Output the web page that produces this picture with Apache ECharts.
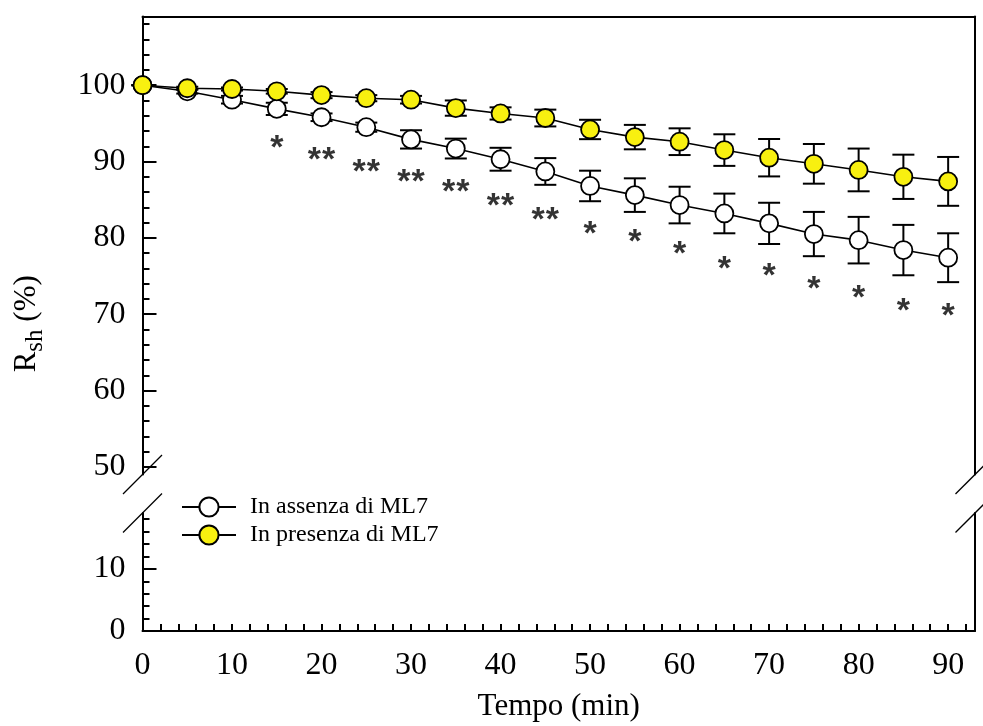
<!DOCTYPE html>
<html><head><meta charset="utf-8">
<script src="https://cdn.jsdelivr.net/npm/echarts@6/dist/echarts.min.js"></script>
<style>html,body{margin:0;padding:0;background:#fff}#c{width:983px;height:726px}</style>
</head><body><div id="c"></div>
<script>
// ---- data ----
const times = [0,5,10,15,20,25,30,35,40,45,50,55,60,65,70,75,80,85,90];
const absentMean = [100,99.2,98.1,96.9,95.8,94.5,92.9,91.7,90.3,88.7,86.8,85.6,84.3,83.2,81.9,80.5,79.7,78.4,77.4];
const absentErr  = [0,0.3,0.5,0.8,0.5,0.6,1.2,1.3,1.5,1.75,2.0,2.2,2.4,2.6,2.7,2.9,3.05,3.3,3.2];
const presentMean = [100,99.6,99.5,99.2,98.7,98.3,98.1,97.0,96.3,95.7,94.2,93.2,92.6,91.5,90.5,89.7,88.9,88.0,87.4];
const presentErr  = [0,0.2,0.2,0.3,0.4,0.4,0.5,1.0,0.8,1.1,1.27,1.6,1.75,2.07,2.45,2.6,2.8,2.9,3.2];
const starTimes  = [15,20,25,30,35,40,45,50,55,60,65,70,75,80,85,90];
const starY      = [92.6,91.0,89.4,88.1,86.8,85.0,83.2,81.4,80.3,78.7,76.8,75.9,74.1,73.0,71.2,70.6];
const starLabels = ['*','**','**','**','**','**','**','*','*','*','*','*','*','*','*','*'];
const seriesNames = ['In assenza di ML7','In presenza di ML7'];
const xTickLabels = [0,10,20,30,40,50,60,70,80,90];
const yUpperLabels = [50,60,70,80,90,100];
const yLowerLabels = [0,10];

// ---- layout / style ----
const FONT = '"Liberation Serif","Times New Roman",serif';
const W = 983, L = 142.5, R = 8, TOP = 16.5, UPH = 458, LOWTOP = 513, LOWH = 118;
const BLACK = '#000', YELLOW = '#f8f010';
const xMinor = []; for (let v = 2; v <= 92; v += 2) xMinor.push(v);
const yUpMinor = []; for (let v = 50; v <= 108; v += 2) yUpMinor.push(v);
const yLowMinor = []; for (let v = 2; v <= 18; v += 2) yLowMinor.push(v);

const chart = echarts.init(document.getElementById('c'), null, {renderer: 'canvas'});
const lineAx = {show: true, lineStyle: {color: BLACK, width: 2}};
const noTick = {show: false}, noLabel = {show: false}, noSplit = {show: false};
const labelStyle = {fontSize: 32, fontFamily: FONT, color: BLACK};

function yAxes(grid, min, max, major, minor) {
  return [
    {gridIndex: grid, type: 'value', min, max, position: 'left', axisLine: lineAx,
     axisTick: {show: true, inside: true, length: 14, lineStyle: {color: BLACK, width: 2}, customValues: major},
     axisLabel: Object.assign({show: true, customValues: major, margin: 17}, labelStyle), splitLine: noSplit},
    {gridIndex: grid, type: 'value', min, max, position: 'left', axisLine: {show: false},
     axisTick: {show: true, inside: true, length: 7, lineStyle: {color: BLACK, width: 2}, customValues: minor},
     axisLabel: noLabel, splitLine: noSplit},
    {gridIndex: grid, type: 'value', min, max, position: 'right', axisLine: lineAx,
     axisTick: noTick, axisLabel: noLabel, splitLine: noSplit}
  ];
}

function errData(mean, err) { return times.map((t, i) => [t, mean[i] - err[i], mean[i] + err[i]]); }
function errRender(params, api) {
  const x = api.value(0), lo = api.value(1), hi = api.value(2);
  const a = api.coord([x, hi]), b = api.coord([x, lo]);
  const hw = 11, st = {stroke: BLACK, lineWidth: 2};
  return {type: 'group', children: [
    {type: 'line', shape: {x1: a[0], y1: a[1], x2: b[0], y2: b[1]}, style: st},
    {type: 'line', shape: {x1: a[0] - hw, y1: a[1], x2: a[0] + hw, y2: a[1]}, style: st},
    {type: 'line', shape: {x1: b[0] - hw, y1: b[1], x2: b[0] + hw, y2: b[1]}, style: st}
  ]};
}

const yBreakA = TOP + UPH, yBreakB = LOWTOP, xRight = W - R, s = 19.5;
function slash(x, y) {
  return {type: 'line', shape: {x1: x - s, y1: y + s, x2: x + s, y2: y - s},
          style: {stroke: BLACK, lineWidth: 1.3}, z: 100};
}

chart.setOption({
  animation: false,
  backgroundColor: '#fff',
  grid: [
    {left: L, right: R, top: TOP, height: UPH},
    {left: L, right: R, top: LOWTOP, height: LOWH}
  ],
  xAxis: [
    {gridIndex: 0, type: 'value', min: 0, max: 93, position: 'top', axisLine: lineAx,
     axisTick: noTick, axisLabel: noLabel, splitLine: noSplit},
    {gridIndex: 1, type: 'value', min: 0, max: 93, position: 'bottom', axisLine: lineAx,
     axisTick: {show: true, inside: true, length: 7, lineStyle: {color: BLACK, width: 2}, customValues: xMinor},
     axisLabel: Object.assign({show: true, customValues: xTickLabels, margin: 19}, labelStyle),
     splitLine: noSplit,
     name: 'Tempo (min)', nameLocation: 'middle', nameGap: 60,
     nameTextStyle: {fontSize: 31, fontFamily: FONT, color: BLACK}}
  ],
  yAxis: [].concat(yAxes(0, 49, 109, yUpperLabels, yUpMinor), yAxes(1, 0, 19, yLowerLabels, yLowMinor)),
  legend: {
    orient: 'vertical', left: 181, top: 495, padding: 0, itemWidth: 54, itemHeight: 24, itemGap: 4,
    data: seriesNames,
    textStyle: {fontSize: 24, fontFamily: FONT, color: BLACK, padding: [0, 0, 0, 9]}
  },
  series: [
    {type: 'custom', xAxisIndex: 0, yAxisIndex: 0, renderItem: errRender, data: errData(absentMean, absentErr), z: 1, silent: true},
    {type: 'custom', xAxisIndex: 0, yAxisIndex: 0, renderItem: errRender, data: errData(presentMean, presentErr), z: 1, silent: true},
    {name: seriesNames[0], type: 'line', xAxisIndex: 0, yAxisIndex: 0, z: 2,
     data: times.map((t, i) => [t, absentMean[i]]),
     symbol: 'circle', symbolSize: 18, showSymbol: true,
     itemStyle: {color: '#fff', borderColor: BLACK, borderWidth: 1.8},
     lineStyle: {color: BLACK, width: 1.6}},
    {name: seriesNames[1], type: 'line', xAxisIndex: 0, yAxisIndex: 0, z: 3,
     data: times.map((t, i) => [t, presentMean[i]]),
     symbol: 'circle', symbolSize: 18, showSymbol: true,
     itemStyle: {color: YELLOW, borderColor: BLACK, borderWidth: 1.8},
     lineStyle: {color: BLACK, width: 1.6}},
    {type: 'scatter', xAxisIndex: 0, yAxisIndex: 0, z: 4, silent: true,
     data: starTimes.map((t, i) => [t, starY[i]]),
     symbolSize: 1, itemStyle: {color: 'transparent'},
     label: {show: true, position: 'inside',
             formatter: p => starLabels[p.dataIndex].split('').map(() => '{a|*}').join(''),
             rich: {a: {fontSize: 34, fontWeight: 'bold', fontFamily: '"Liberation Sans", Arial, sans-serif',
                        color: BLACK, padding: [0, 0.5, 0, 0.5]}},
             offset: [0, 7]}}
  ],
  graphic: [
    slash(L, yBreakA), slash(L, yBreakB), slash(xRight, yBreakA), slash(xRight, yBreakB),
    {type: 'text', x: 27, y: (TOP + LOWTOP + LOWH) / 2, rotation: Math.PI / 2, z: 100,
     style: {text: '{r|R}{s|sh}{r| (%)}', align: 'center', verticalAlign: 'middle', fill: BLACK,
             font: '31px ' + FONT,
             rich: {r: {fontSize: 31, fontFamily: FONT, fill: BLACK},
                    s: {fontSize: 25, fontFamily: FONT, fill: BLACK, padding: [16, 0, 0, 0]}}}}
  ]
});
</script></body></html>
